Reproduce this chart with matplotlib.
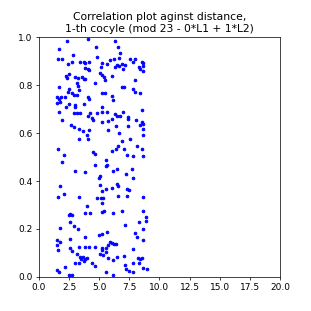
import numpy as np
from matplotlib import pyplot as plt

# points, (distance, correlation)
dist = [
    2.32, 4.04, 4.76, 1.69, 1.58, 1.91, 2.79, 2.41, 2.74, 3.38, 3.71, 3.85, 4.12, 4.81, 5.23,
    5.17, 3.85, 4.04, 4.18, 5.09, 5.23, 2.24, 2.46, 2.32, 3.02, 3.24, 3.57, 3.71, 3.85, 3.15,
    3.24, 4.68, 1.63, 2.52, 2.41, 2.74, 3.35, 1.49, 1.63, 1.85, 2.19, 2.88, 3.15, 1.49, 1.77,
    2.46, 3.02, 3.71, 4.07, 4.18, 2.24, 3.02, 1.63, 2.88, 3.15, 3.43, 4.26, 4.81, 5.23, 5.23,
    4.07,
    6.30, 6.58, 6.72, 5.89, 6.22, 6.66, 7.55, 7.83, 7.96, 8.52, 5.67, 6.30, 6.44, 6.66, 6.86,
    7.13, 7.00, 8.32, 8.43, 8.60, 8.60, 8.66, 5.39, 6.03, 5.47, 7.96, 6.86, 7.05, 7.83, 7.96,
    8.38, 5.20, 5.47, 6.03, 6.17, 5.67, 8.52, 6.30, 6.44, 6.72, 7.00, 7.41,
    1.91, 4.40, 4.45, 5.23, 2.68, 2.88, 3.29, 3.65, 4.12, 3.98, 4.07, 3.35, 1.58, 2.08, 1.94,
    4.45, 4.68, 4.62, 3.02, 3.79, 5.09, 5.01, 5.09, 1.74, 2.05, 1.58, 3.29, 4.81, 5.17,
    5.75, 6.03, 7.41, 8.05, 8.52, 8.66, 8.43, 8.66, 5.75, 6.39, 6.66, 7.41, 8.60, 7.60, 6.86,
    6.58, 7.05, 6.39, 6.03, 8.16, 8.52, 7.27, 7.83, 8.66, 5.61, 5.67, 5.56, 6.44, 6.17, 7.69,
    7.22, 7.83, 6.44, 6.58, 6.03, 5.61, 5.20, 7.27, 7.49, 6.58, 7.33, 8.66, 5.34,
    3.98, 5.23, 2.60, 2.46, 2.74, 3.85, 4.26, 5.23, 2.60, 2.88, 3.24, 1.77, 5.23, 3.85, 4.95,
    1.49, 1.77, 1.49, 2.60, 1.58, 2.60, 2.74, 3.35, 3.85, 4.18, 4.62, 5.23, 3.15, 3.43, 3.62,
    3.85, 3.71, 3.51, 3.98, 3.02, 3.29, 4.40, 4.62, 5.09, 1.49, 1.69, 2.19, 2.46, 2.74,
    5.39, 6.17, 6.86, 8.66, 8.88, 8.32, 8.88, 7.13, 8.60, 7.96, 8.10, 8.66, 5.67, 5.89, 6.03,
    6.22, 6.39, 5.75, 5.61, 5.20, 5.61, 5.34, 5.75, 6.11, 6.44, 7.05, 7.77, 8.24, 8.38, 8.52,
    8.32, 7.83, 7.13, 7.22, 7.49, 5.56, 7.83, 6.17, 8.66, 8.93,
]
corr = [
    0.986, 0.992, 0.961, 0.950, 0.910, 0.908, 0.925, 0.889, 0.897, 0.897, 0.897, 0.891, 0.897, 0.919, 0.894,
    0.877, 0.873, 0.869, 0.864, 0.852, 0.843, 0.840, 0.847, 0.831, 0.833, 0.831, 0.836, 0.824, 0.827, 0.808,
    0.797, 0.808, 0.794, 0.783, 0.771, 0.766, 0.780, 0.752, 0.744, 0.752, 0.752, 0.759, 0.759, 0.724, 0.731,
    0.721, 0.717, 0.721, 0.752, 0.744, 0.707, 0.707, 0.689, 0.682, 0.682, 0.682, 0.682, 0.682, 0.689, 0.710,
    0.671,
    0.986, 0.961, 0.933, 0.905, 0.908, 0.912, 0.908, 0.898, 0.908, 0.898, 0.889, 0.877, 0.883, 0.880, 0.889,
    0.884, 0.866, 0.877, 0.869, 0.880, 0.861, 0.891, 0.836, 0.838, 0.822, 0.822, 0.791, 0.791, 0.783, 0.773,
    0.766, 0.769, 0.766, 0.755, 0.738, 0.689, 0.696, 0.679, 0.671, 0.671, 0.689, 0.668,
    0.654, 0.663, 0.654, 0.646, 0.632, 0.625, 0.618, 0.607, 0.613, 0.590, 0.576, 0.574, 0.534, 0.509, 0.479,
    0.521, 0.512, 0.465, 0.440, 0.437, 0.420, 0.412, 0.385, 0.378, 0.345, 0.335, 0.335, 0.331, 0.331,
    0.652, 0.660, 0.660, 0.653, 0.646, 0.639, 0.632, 0.618, 0.611, 0.629, 0.601, 0.629, 0.593, 0.576, 0.565,
    0.548, 0.534, 0.534, 0.526, 0.546, 0.532, 0.507, 0.504, 0.504, 0.486, 0.467, 0.462, 0.451, 0.440, 0.451,
    0.428, 0.412, 0.388, 0.378, 0.370, 0.367, 0.360, 0.367, 0.364, 0.336, 0.336, 0.332, 0.328,
    0.296, 0.307, 0.262, 0.258, 0.258, 0.268, 0.268, 0.272, 0.230, 0.212, 0.198, 0.202, 0.179, 0.165, 0.175,
    0.154, 0.147, 0.133, 0.156, 0.112, 0.119, 0.109, 0.123, 0.126, 0.126, 0.126, 0.112, 0.095, 0.084, 0.081,
    0.073, 0.067, 0.073, 0.077, 0.059, 0.056, 0.056, 0.045, 0.095, 0.028, 0.021, 0.042, 0.007, 0.007,
    0.276, 0.268, 0.274, 0.274, 0.251, 0.230, 0.235, 0.216, 0.198, 0.184, 0.168, 0.154, 0.189, 0.147, 0.140,
    0.137, 0.137, 0.133, 0.119, 0.119, 0.105, 0.091, 0.077, 0.070, 0.081, 0.087, 0.115, 0.077, 0.073, 0.077,
    0.059, 0.056, 0.049, 0.031, 0.025, 0.021, 0.021, 0.007, 0.035, 0.031,
]

fig = plt.figure(figsize=(4.8, 4.8), dpi=64.8)
plt.plot(np.array(dist), np.array(corr), "b.")
plt.title("Correlation plot aginst distance,\n1-th cocyle (mod 23 - 0*L1 + 1*L2)")
plt.xlim(0, 20)
plt.ylim(0, 1)
plt.savefig("out.png", dpi=64.8)
